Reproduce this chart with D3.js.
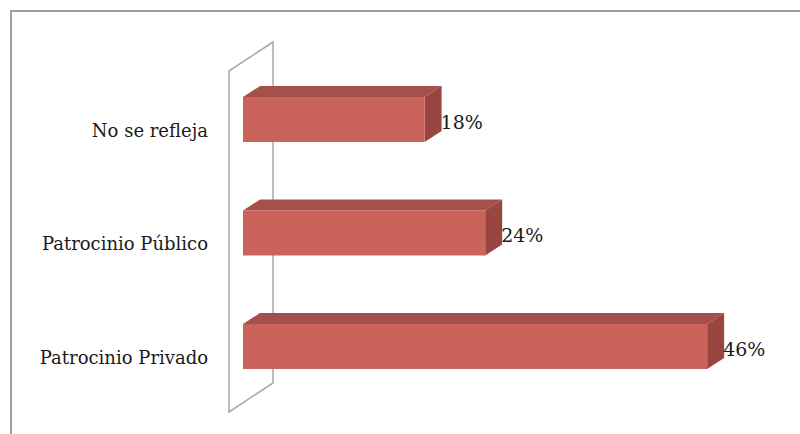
<!DOCTYPE html>
<html>
<head>
<meta charset="utf-8">
<script src="https://cdn.jsdelivr.net/npm/d3@7"></script>
<style>
  html, body { margin: 0; padding: 0; background: #fff; }
  svg { display: block; }
</style>
</head>
<body>
<svg id="chart" width="800" height="434"></svg>
<script>
// Categories, top to bottom
const categories = ["No se refleja", "Patrocinio Público", "Patrocinio Privado"];
// Share of each category (percent)
const values = [18, 24, 46];
// Value labels shown at the end of each bar
const valueLabels = ["18%", "24%", "46%"];

const svg = d3.select("#chart");
const W = 800, H = 434;

// 3D extrusion of the bars and of the back wall
const depth = { dx: 17, dy: -11 };
const wallDepth = { dx: 44, dy: -29 };
const barH = 45;

const x = d3.scaleLinear().domain([0, 50]).range([243, 747.5]);
const y = d3.scalePoint().domain(categories).range([119.5, 346.5]);

// Outer chart frame
svg.append("rect")
  .attr("x", 11).attr("y", 11)
  .attr("width", W + 20).attr("height", H + 20)
  .attr("fill", "none")
  .attr("stroke", "#9f9f9f")
  .attr("stroke-width", 2);

// Vertical axis wall (parallelogram)
const wx = x(0) - 14, wTop = 71, wBot = 412;
svg.append("path")
  .attr("d", `M${wx},${wBot} L${wx},${wTop} L${wx + wallDepth.dx},${wTop + wallDepth.dy} ` +
             `L${wx + wallDepth.dx},${wBot + wallDepth.dy} Z`)
  .attr("fill", "none")
  .attr("stroke", "#a8a8a8")
  .attr("stroke-width", 1.5);

const bars = svg.append("g").selectAll("g")
  .data(categories.map((c, i) => ({ c, v: values[i], label: valueLabels[i] })))
  .join("g");

// Top face
bars.append("path")
  .attr("d", d => {
    const x0 = x(0), x1 = x(d.v), yt = y(d.c) - barH / 2;
    return `M${x0},${yt} L${x0 + depth.dx},${yt + depth.dy} L${x1 + depth.dx},${yt + depth.dy} L${x1},${yt} Z`;
  })
  .attr("fill", "#a5504a");

// Side (end) face
bars.append("path")
  .attr("d", d => {
    const x1 = x(d.v), yt = y(d.c) - barH / 2, yb = y(d.c) + barH / 2;
    return `M${x1},${yt} L${x1 + depth.dx},${yt + depth.dy} L${x1 + depth.dx},${yb + depth.dy} L${x1},${yb} Z`;
  })
  .attr("fill", "#9a4640");

// Front face
bars.append("rect")
  .attr("x", x(0))
  .attr("y", d => y(d.c) - barH / 2)
  .attr("width", d => x(d.v) - x(0))
  .attr("height", barH)
  .attr("fill", "#ca635a");

// Value labels
bars.append("text")
  .attr("x", d => x(d.v) + depth.dx - 1)
  .attr("y", d => y(d.c) + 9)
  .attr("font-family", "DejaVu Serif")
  .attr("font-size", 19)
  .attr("fill", "#1a1a1a")
  .text(d => d.label);

// Category labels
svg.append("g").selectAll("text")
  .data(categories)
  .join("text")
  .attr("x", 208)
  .attr("y", d => y(d) + 17)
  .attr("text-anchor", "end")
  .attr("font-family", "DejaVu Serif")
  .attr("font-size", 18)
  .attr("fill", "#1a1a1a")
  .text(d => d);
</script>
</body>
</html>
